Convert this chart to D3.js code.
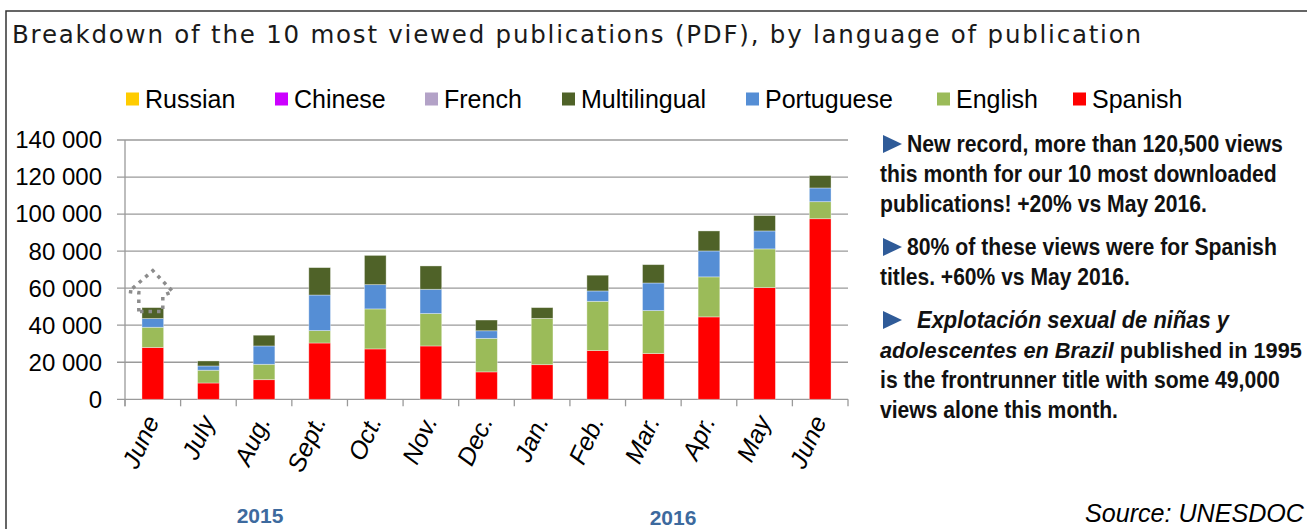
<!DOCTYPE html>
<html>
  <head>
    <meta charset="utf-8">
    <title>Top 10 publications by language</title>
    <script src="https://d3js.org/d3.v7.min.js"></script>
    <style>
      body { margin: 0; background: #fff; }
      text { font-family: "Liberation Sans", Arial, sans-serif; }
      text.title { font-family: "DejaVu Sans", Verdana, sans-serif; }
    </style>
  </head>
  <body>
    <script>
      // data
      var months = ["June", "July", "Aug.", "Sept.", "Oct.", "Nov.", "Dec.",
                    "Jan.", "Feb.", "Mar.", "Apr.", "May", "June"];
      var spanish      = [28000, 8800, 10600, 30400, 27200, 28800, 14800, 18700, 26300, 24700, 44500, 60300, 97500];
      var english      = [10900, 6900, 8300, 6700, 21600, 17500, 18100, 25000, 26600, 23200, 21600, 20900, 9200];
      var portuguese   = [4700, 2300, 9900, 19200, 13100, 13100, 4100, 0, 5600, 14900, 14000, 9700, 7400];
      var multilingual = [5900, 2700, 5800, 14800, 15800, 12600, 5800, 5800, 8500, 9900, 10800, 8300, 6700];
      var french  = [0, 0, 0, 0, 0, 0, 0, 0, 0, 0, 0, 0, 0];
      var chinese = [0, 0, 0, 0, 0, 0, 0, 0, 0, 0, 0, 0, 0];
      var russian = [0, 0, 0, 0, 0, 0, 0, 0, 0, 0, 0, 0, 0];
      var yTicks = [0, 20000, 40000, 60000, 80000, 100000, 120000, 140000];
      var years = ["2015", "2016"];

      var keys = ["Spanish", "English", "Portuguese", "Multilingual", "French", "Chinese", "Russian"];
      var colors = {
        Spanish: "#ff0000", English: "#9bbb59", Portuguese: "#558ed5",
        Multilingual: "#4f6228", French: "#b3a2c7", Chinese: "#cc00ff", Russian: "#ffcc00"
      };
      var legendOrder = ["Russian", "Chinese", "French", "Multilingual", "Portuguese", "English", "Spanish"];
      var legendX = [126, 275, 425, 562, 746, 937, 1073];

      var rows = months.map(function(m, i) {
        return {i: i, Spanish: spanish[i], English: english[i], Portuguese: portuguese[i],
                Multilingual: multilingual[i], French: french[i], Chinese: chinese[i], Russian: russian[i]};
      });

      var W = 1307, H = 529;
      var svg = d3.select("body").append("svg")
        .attr("width", W)
        .attr("height", H);

      // frame
      svg.append("path")
        .attr("d", "M6," + H + "V11H" + W)
        .attr("fill", "none")
        .attr("stroke", "#333")
        .attr("stroke-width", 1.5);

      // squeeze/stretch a text horizontally so it spans w pixels
      function fitText(sel, x, y, w) {
        var natural = sel.node().getComputedTextLength();
        sel.attr("transform", "translate(" + x + "," + y + ") scale(" + (w / natural) + ",1)");
      }

      svg.append("text")
        .attr("class", "title")
        .attr("x", 12).attr("y", 43)
        .attr("font-size", 24.5)
        .attr("fill", "#1a1a1a")
        .attr("textLength", 1129)
        .attr("lengthAdjust", "spacing")
        .text("Breakdown of the 10 most viewed publications (PDF), by language of publication");

      // legend
      var leg = svg.selectAll("g.leg")
        .data(legendOrder)
        .enter().append("g")
          .attr("class", "leg")
          .attr("transform", function(d, i) { return "translate(" + legendX[i] + ",99)"; });
      leg.append("rect")
        .attr("x", 0).attr("y", -6.5)
        .attr("width", 13).attr("height", 13)
        .attr("fill", function(d) { return colors[d]; });
      leg.append("text")
        .attr("x", 19).attr("y", 8.5)
        .attr("font-size", 25)
        .attr("fill", "#000")
        .text(function(d) { return d; });

      var x0 = 125, x1 = 848, yBase = 399.3, yTop = 140;
      var xScale = d3.scaleBand().domain(d3.range(months.length)).range([x0, x1]).padding(0);
      var yScale = d3.scaleLinear().domain([0, 140000]).range([yBase, yTop]);
      var barW = xScale.bandwidth() * 0.39;

      // grid
      svg.selectAll("line.grid")
        .data(yTicks)
        .enter().append("line")
          .attr("class", "grid")
          .attr("x1", x0 - 8).attr("x2", x1)
          .attr("y1", function(d) { return yScale(d); })
          .attr("y2", function(d) { return yScale(d); })
          .attr("stroke", "#9a9a9a")
          .attr("stroke-width", 1.3);

      svg.append("line")
        .attr("x1", x0).attr("x2", x0)
        .attr("y1", yTop).attr("y2", yBase + 7)
        .attr("stroke", "#9a9a9a").attr("stroke-width", 1.3);

      svg.selectAll("line.xtick")
        .data(d3.range(months.length + 1))
        .enter().append("line")
          .attr("class", "xtick")
          .attr("x1", function(d) { return x0 + d * xScale.step(); })
          .attr("x2", function(d) { return x0 + d * xScale.step(); })
          .attr("y1", yBase).attr("y2", yBase + 7)
          .attr("stroke", "#9a9a9a").attr("stroke-width", 1.3);

      svg.selectAll("text.ylab")
        .data(yTicks)
        .enter().append("text")
          .attr("class", "ylab")
          .attr("x", 102)
          .attr("y", function(d) { return yScale(d); })
          .attr("dy", "0.35em")
          .attr("text-anchor", "end")
          .attr("font-size", 24)
          .attr("fill", "#000")
          .text(function(d) { return d3.format(",")(d).replace(/,/g, " "); });

      // bars
      var stack = d3.stack().keys(keys)(rows);
      svg.selectAll("g.series")
        .data(stack)
        .enter().append("g")
          .attr("class", "series")
          .attr("fill", function(d) { return colors[d.key]; })
        .selectAll("rect")
        .data(function(d) { return d.filter(function(s) { return s[1] > s[0]; }); })
        .enter().append("rect")
          .attr("x", function(d) { return xScale(d.data.i) + xScale.bandwidth() / 2 - barW / 2; })
          .attr("width", barW)
          .attr("y", function(d) { return yScale(d[1]); })
          .attr("height", function(d) { return yScale(d[0]) - yScale(d[1]); })
          .attr("stroke", "#ffffff")
          .attr("stroke-opacity", 0.45)
          .attr("stroke-width", 0.8);

      // dotted arrow over the first bar
      var c0 = xScale(0) + xScale.bandwidth() / 2;
      var top0 = yScale(spanish[0] + english[0] + portuguese[0] + multilingual[0]);
      var arrow = [[-14, 4], [-14, -15], [-24, -16], [0, -37], [20, -16], [10, -12], [10, 4]];
      svg.append("path")
        .attr("d", d3.line()(arrow.map(function(p) { return [c0 + p[0], top0 + p[1]]; })) + "Z")
        .attr("fill", "none")
        .attr("stroke", "#8c8c8c")
        .attr("stroke-width", 3.5)
        .attr("stroke-dasharray", "3.5,5");

      // month labels
      svg.selectAll("text.xlab")
        .data(months)
        .enter().append("text")
          .attr("class", "xlab")
          .attr("transform", function(d, i) {
            return "translate(" + (xScale(i) + xScale.bandwidth() / 2 + 7) + ",421) rotate(-65)";
          })
          .attr("text-anchor", "end")
          .attr("font-size", 25)
          .attr("font-style", "italic")
          .attr("fill", "#000")
          .text(function(d) { return d; });

      // year labels under their group of months
      var yearCenters = [260, 673];
      svg.selectAll("text.year")
        .data(years)
        .enter().append("text")
          .attr("class", "year")
          .attr("x", function(d, i) { return yearCenters[i]; })
          .attr("y", function(d, i) { return i === 0 ? 523 : 525; })
          .attr("text-anchor", "middle")
          .attr("font-size", 21)
          .attr("font-weight", "bold")
          .attr("fill", "#3d6a9e")
          .text(function(d) { return d; });

      // notes on the right
      var notes = [
        {y: 152, x: 907, tri: true, parts: [["New record, more than 120,500 views", false]], w: 376},
        {y: 182, x: 880, parts: [["this month for our 10 most downloaded", false]], w: 397},
        {y: 212, x: 880, parts: [["publications! +20% vs May 2016.", false]], w: 327},
        {y: 255, x: 907, tri: true, parts: [["80% of these views were for Spanish", false]], w: 370},
        {y: 285, x: 880, parts: [["titles. +60% vs May 2016.", false]], w: 250},
        {y: 328, x: 917, tri: true, parts: [["Explotación sexual de niñas y", true]], w: 312},
        {y: 358, x: 880, parts: [["adolescentes en Brazil", true], [" published in 1995", false]], w: 422},
        {y: 388, x: 880, parts: [["is the frontrunner title with some 49,000", false]], w: 400},
        {y: 418, x: 880, parts: [["views alone this month.", false]], w: 238}
      ];
      notes.forEach(function(n) {
        if (n.tri) {
          svg.append("path")
            .attr("d", "M883," + (n.y - 17) + "L902," + (n.y - 8) + "L883," + (n.y + 1) + "Z")
            .attr("fill", "#2f5b98");
        }
        var t = svg.append("text")
          .attr("font-size", 23)
          .attr("font-weight", "bold")
          .attr("fill", "#111");
        n.parts.forEach(function(p) {
          t.append("tspan")
            .attr("font-style", p[1] ? "italic" : "normal")
            .text(p[0]);
        });
        fitText(t, n.x, n.y, n.w);
      });

      var src = svg.append("text")
        .attr("font-size", 25)
        .attr("font-style", "italic")
        .attr("fill", "#000")
        .text("Source: UNESDOC");
      fitText(src, 1085, 522, 219);
    </script>
  </body>
</html>
